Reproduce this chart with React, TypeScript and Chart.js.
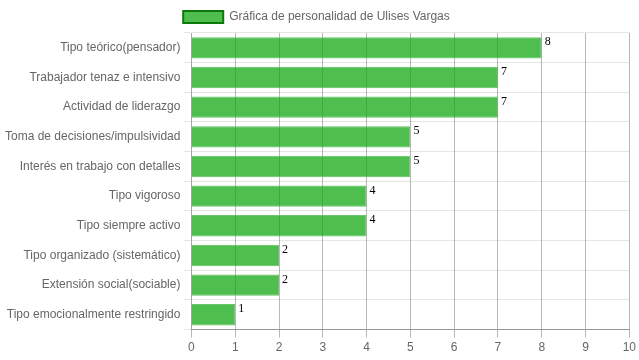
import React, { useEffect, useRef } from "react";
import { Chart, registerables } from "chart.js";

Chart.register(...registerables);

const categories = [
  "Tipo teórico(pensador)",
  "Trabajador tenaz e intensivo",
  "Actividad de liderazgo",
  "Toma de decisiones/impulsividad",
  "Interés en trabajo con detalles",
  "Tipo vigoroso",
  "Tipo siempre activo",
  "Tipo organizado (sistemático)",
  "Extensión social(sociable)",
  "Tipo emocionalmente restringido",
];
const values = [8, 7, 7, 5, 5, 4, 4, 2, 2, 1];
const seriesLabel = "Gráfica de personalidad de Ulises Vargas";

const valueLabels = {
  id: "valueLabels",
  afterDatasetsDraw(chart: any) {
    const ctx = chart.ctx;
    const meta = chart.getDatasetMeta(0);
    ctx.save();
    ctx.font = "12px 'Liberation Serif', 'DejaVu Serif', serif";
    ctx.fillStyle = "#000";
    ctx.textAlign = "left";
    ctx.textBaseline = "top";
    meta.data.forEach((bar: any, i: number) => {
      const h = bar.height;
      ctx.fillText(String(values[i]), bar.x + 3, bar.y - h / 2 - 1);
    });
    ctx.restore();
  },
};

export default function App() {
  const ref = useRef<HTMLCanvasElement>(null);
  useEffect(() => {
    document.body.style.margin = "0";
    const chart = new Chart(ref.current!, {
      type: "bar",
      data: {
        labels: categories,
        datasets: [
          {
            label: seriesLabel,
            data: values,
            backgroundColor: "rgba(10,165,10,0.72)",
            borderColor: "rgba(90,190,90,0.9)",
            borderWidth: 1,
            barPercentage: 0.9,
            categoryPercentage: 0.8,
          },
        ],
      },
      options: {
        indexAxis: "y",
        animation: false,
        responsive: false,
        layout: { padding: { left: 2, right: 8, top: 0, bottom: 2 } },
        plugins: {
          legend: {
            labels: {
              padding: 11,
              font: { family: "'Liberation Sans', Arial, sans-serif", size: 12 },
              color: "#666",
              boxWidth: 40,
              boxHeight: 12,
              generateLabels: () => [
                {
                  text: seriesLabel,
                  fillStyle: "rgba(10,165,10,0.72)",
                  strokeStyle: "#0a7a0a",
                  lineWidth: 2,
                  fontColor: "#666",
                  datasetIndex: 0,
                } as any,
              ],
            },
          },
          tooltip: { enabled: false },
        },
        scales: {
          x: {
            min: 0,
            max: 10,
            ticks: {
              stepSize: 1,
              color: "#666",
              font: { family: "'Liberation Sans', Arial, sans-serif", size: 12 },
            },
            grid: {
              color: "rgba(0,0,0,0.28)",
              tickLength: 8,
            },
            border: { color: "rgba(0,0,0,0.35)" },
          },
          y: {
            ticks: {
              color: "#666",
              font: { family: "'Liberation Sans', Arial, sans-serif", size: 12 },
            },
            grid: { color: "rgba(0,0,0,0.1)", tickLength: 8 },
            border: { color: "rgba(0,0,0,0.1)" },
          },
        },
      },
      plugins: [valueLabels],
    });
    return () => chart.destroy();
  }, []);
  return <canvas ref={ref} width={639} height={360} style={{ display: "block" }} />;
}
